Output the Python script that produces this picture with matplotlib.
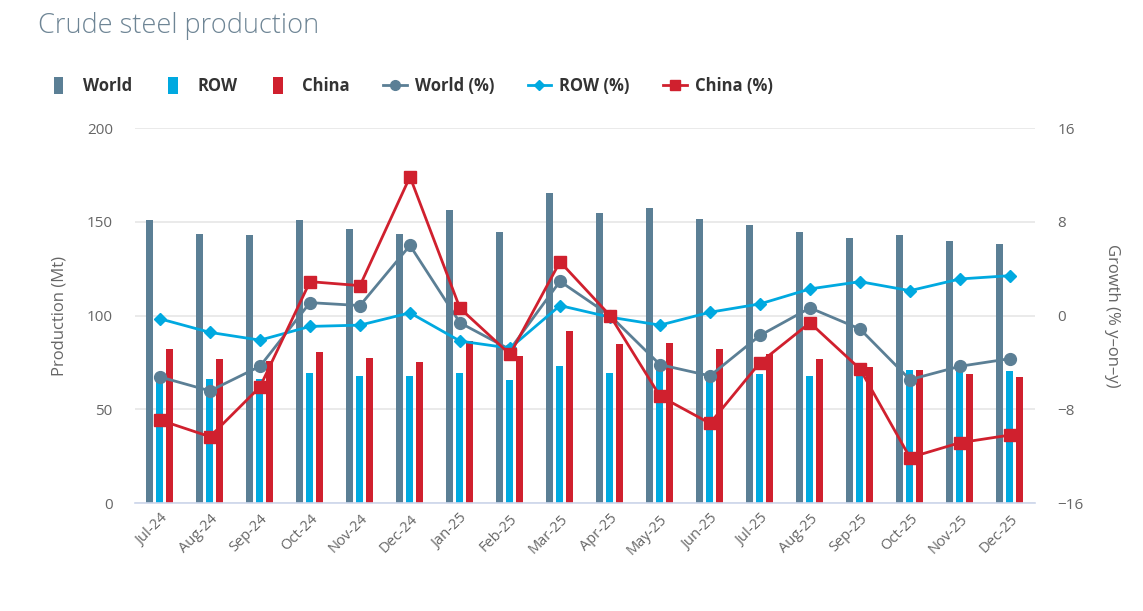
import matplotlib.pyplot as plt
import numpy as np
from matplotlib.lines import Line2D
from matplotlib.patches import Patch, Rectangle
from matplotlib.legend_handler import HandlerPatch

plt.rcParams['font.family'] = ['Open Sans', 'DejaVu Sans']

months = ['Jul-24', 'Aug-24', 'Sep-24', 'Oct-24', 'Nov-24', 'Dec-24',
          'Jan-25', 'Feb-25', 'Mar-25', 'Apr-25', 'May-25', 'Jun-25',
          'Jul-25', 'Aug-25', 'Sep-25', 'Oct-25', 'Nov-25', 'Dec-25']

# production (Mt)
world = [150.8, 143.7, 142.8, 150.8, 146.0, 143.7, 156.5, 144.4, 165.1,
         154.9, 157.2, 151.7, 148.5, 144.4, 141.2, 142.8, 139.6, 138.1]
row = [66.8, 66.4, 66.4, 69.6, 68.0, 68.0, 69.6, 65.8, 72.9,
       69.6, 71.7, 67.3, 69.0, 68.0, 69.0, 71.2, 70.4, 70.4]
china = [82.3, 76.8, 75.8, 80.7, 77.5, 75.0, 86.4, 78.2, 91.9,
         84.6, 85.5, 82.3, 79.6, 76.8, 72.6, 71.2, 68.7, 67.3]

# growth (% y-on-y)
world_pct = [-5.24, -6.43, -4.33, 1.10, 0.85, 5.98, -0.62, -2.9, 2.92,
             0.0, -4.19, -5.15, -1.70, 0.65, -1.15, -5.47, -4.33, -3.68]
row_pct = [-0.28, -1.44, -2.10, -0.93, -0.82, 0.23, -2.18, -2.78, 0.85,
           -0.14, -0.82, 0.28, 0.99, 2.27, 2.89, 2.12, 3.12, 3.40]
china_pct = [-8.92, -10.34, -6.09, 2.89, 2.55, 11.84, 0.62, -3.31, 4.59,
             0.0, -6.88, -9.20, -4.02, -0.62, -4.56, -12.12, -10.85, -10.2]

c_world = '#5b7f95'
c_row = '#00a9e0'
c_china = '#d0202e'
c_text = '#666666'

x = np.arange(len(months))
w = 0.14

fig = plt.figure(figsize=(11.43, 6.11), dpi=100)
ax = fig.add_axes([0.1181, 0.1767, 0.7874, 0.6138])
ax.bar(x - 0.2, world, w, color=c_world, zorder=2)
ax.bar(x, row, w, color=c_row, zorder=2)
ax.bar(x + 0.2, china, w, color=c_china, zorder=2)

ax.set_xlim(-0.5, len(months) - 0.5)
ax.set_ylim(0, 200)
ax.set_yticks([0, 50, 100, 150, 200])
ax.grid(axis='y', color='#e6e6e6', linewidth=1.2, zorder=0)
ax.set_axisbelow(True)
for s in ['top', 'left', 'right']:
    ax.spines[s].set_visible(False)
ax.spines['bottom'].set_color('#ccd6eb')
ax.spines['bottom'].set_linewidth(1.2)
ax.tick_params(axis='y', length=0, labelsize=11, labelcolor=c_text, pad=16)
ax.tick_params(axis='x', length=0, labelsize=10.5, labelcolor=c_text, pad=6)
ax.set_xticks(x)
ax.set_xticklabels(months, rotation=45, ha='right', rotation_mode='anchor')
ax.set_ylabel('Production (Mt)', fontsize=12, color=c_text, labelpad=14)

ax2 = ax.twinx()
ax2.plot(x, world_pct, color=c_world, lw=2, marker='o', ms=8.5, zorder=3)
ax2.plot(x, row_pct, color=c_row, lw=2, marker='D', ms=6, zorder=4)
ax2.plot(x, china_pct, color=c_china, lw=2, marker='s', ms=8.5, zorder=5)
ax2.set_ylim(-16, 16)
ax2.set_yticks([-16, -8, 0, 8, 16])
ax2.set_yticklabels(['\u221216', '\u22128', '0', '8', '16'])
for s in ['top', 'left', 'right', 'bottom']:
    ax2.spines[s].set_visible(False)
ax2.tick_params(axis='y', length=0, labelsize=11, labelcolor=c_text, pad=16)
ax2.set_ylabel('Growth (% y\u2013on\u2013y)', fontsize=12, color=c_text,
               rotation=270, va='center')
ax2.yaxis.set_label_coords(1.086, 0.5)

fig.text(0.033, 0.958, 'Crude steel production', fontsize=19.5,
         color='#6e8595', fontweight='light', va='center')


class NarrowPatch(HandlerPatch):
    def create_artists(self, legend, orig_handle, xdescent, ydescent,
                       width, height, fontsize, trans):
        h = 12.5
        r = Rectangle((-xdescent + 1.5, -ydescent + height / 2 - h / 2), 7, h,
                      facecolor=orig_handle.get_facecolor(), lw=0,
                      transform=trans)
        return [r]


handles = [
    Patch(color=c_world, label='World'),
    Patch(color=c_row, label='ROW'),
    Patch(color=c_china, label='China'),
    Line2D([], [], color=c_world, lw=2, marker='o', ms=7, label='World (%)'),
    Line2D([], [], color=c_row, lw=2, marker='D', ms=5, label='ROW (%)'),
    Line2D([], [], color=c_china, lw=2, marker='s', ms=7, label='China (%)'),
]
leg = fig.legend(handles=handles, loc='center left', bbox_to_anchor=(0.032, 0.859),
                 ncol=6, frameon=False, fontsize=12, handlelength=1.4,
                 columnspacing=2.0, handletextpad=0.5,
                 handler_map={Patch: NarrowPatch()})
for t in leg.get_texts():
    t.set_fontweight('bold')
    t.set_color('#333333')

fig.savefig('out.png', dpi=100)
